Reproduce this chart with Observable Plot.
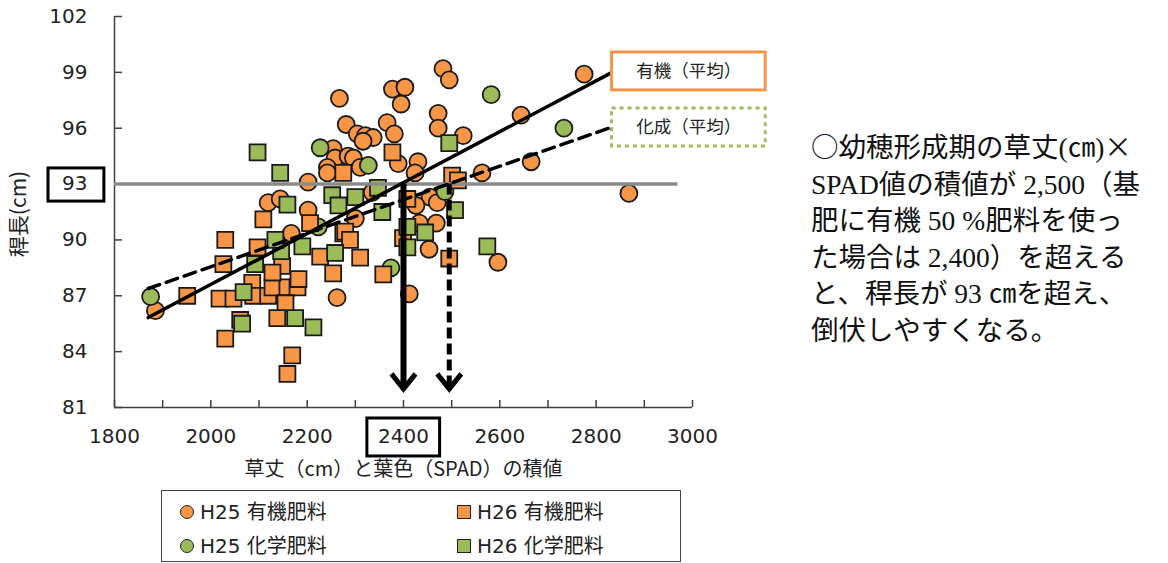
<!DOCTYPE html>
<html><head><meta charset="utf-8">
<script src="https://cdn.jsdelivr.net/npm/d3@7"></script>
<script src="https://cdn.jsdelivr.net/npm/@observablehq/plot@0.6"></script>
<style>
body{margin:0;background:#fff;}
#wrap{position:relative;width:1168px;height:563px;overflow:hidden;font-family:"Noto Sans CJK JP",sans-serif;background:#fff;}
#chart{position:absolute;left:0;top:0;}
#note{position:absolute;left:811px;top:127px;font-family:"Liberation Serif","Noto Sans CJK JP",serif;font-size:27.5px;line-height:36.5px;white-space:nowrap;color:#111;}
#note .cj{font-family:"Noto Sans CJK JP",sans-serif;}
#legend{position:absolute;left:161px;top:490px;width:520px;height:72px;border:1.5px solid #444;box-sizing:border-box;}
.li{position:absolute;font-size:20px;line-height:22px;color:#222;white-space:nowrap;font-family:"DejaVu Sans","Noto Sans CJK JP",sans-serif;}
.ic{position:absolute;box-sizing:border-box;border:1.5px solid #222;}
</style>
</head><body>
<div id="wrap">
  <div id="chart"></div>
  <div id="legend"></div>
  <div id="note"></div>
</div>
<script>
const orange = "#F79646", green = "#9BBB59";

// series names
const seriesNames = ["H25 有機肥料", "H25 化学肥料", "H26 有機肥料", "H26 化学肥料"];

// H25 organic (orange circles): [product, culm length]
const h25Organic = [[2482,99.2],[2495,98.6],[2775,98.9],[2377,98.1],[2403,98.2],[2395,97.3],[2267,97.6],[2472,96.8],[2472,96.0],[2524,95.6],[2644,96.7],[2281,96.2],[2366,96.3],[2381,95.7],[2304,95.7],[2321,95.6],[2337,95.5],[2316,95.3],[2254,94.9],[2258,94.4],[2285,94.5],[2242,93.9],[2242,93.6],[2296,94.4],[2310,93.9],[2430,94.2],[2424,93.6],[2389,94.1],[2665,94.2],[2563,93.6],[2202,93.1],[2119,92.0],[2144,92.2],[2202,91.6],[2455,92.3],[2470,92.0],[2426,91.85],[2335,92.55],[2433,90.9],[2468,90.9],[2300,91.15],[2453,89.5],[2596,88.8],[2412,87.1],[2262,86.9],[2868,92.5],[2167,90.35],[1885,86.2]];
// H25 chemical (green circles)
const h25Chem = [[2227,94.95],[2327,94.0],[2582,97.8],[2733,96.0],[1875,86.95],[2374,88.5],[2486,92.6],[2223,90.7]];
// H26 organic (orange squares)
const h26Organic = [[2109,91.1],[2030,90.0],[2026,88.7],[1951,87.0],[2148,88.6],[2097,89.6],[2275,90.35],[2254,88.2],[2227,89.1],[2018,86.85],[2047,86.85],[2086,87.7],[2088,87.0],[2119,87.0],[2128,87.45],[2159,87.45],[2180,87.45],[2182,87.9],[2155,86.6],[2061,85.7],[2138,85.8],[2030,84.7],[2169,83.8],[2159,82.8],[2408,92.2],[2399,90.1],[2495,89.0],[2279,90.45],[2289,90.0],[2310,89.05],[2358,88.15],[2275,93.6],[2377,94.7],[2501,93.45],[2513,93.2],[2206,90.9],[2128,88.25]];
// H26 chemical (green squares)
const h26Chem = [[2097,94.7],[2144,93.6],[2159,91.9],[2252,92.4],[2265,91.85],[2300,92.3],[2347,92.8],[2356,91.5],[2507,91.6],[2408,90.7],[2445,90.4],[2408,89.6],[2574,89.65],[2258,89.3],[2146,89.4],[2134,90.0],[2190,89.65],[2068,87.2],[2065,85.5],[2175,85.8],[2213,85.3],[2092,88.7],[2495,95.2]];

// average regression lines (endpoints)
const lineOrganic = [[1870,85.83],[2833,99.0]];
const lineChem = [[1870,87.39],[2832,96.05]];
const lineLabels = ["有機（平均）", "化成（平均）"];

// threshold
const threshold = 93;
const thresholdLineEnd = 2970;
const critOrganic = 2400, critChem = 2495;
const arrowTip = 82.0;

// ticks
const xLabelTicks = [1800,2000,2200,2400,2600,2800,3000];
const xMinorTicks = [1800,1900,2000,2100,2200,2300,2400,2500,2600,2700,2800,2900,3000];
const yTicks = [81,84,87,90,93,96,99,102];
const xTitle = "草丈（cm）と葉色（SPAD）の積値";
const yTitle = "稈長(cm)";

const noteLines = ["<span class='cj'>○</span>幼穂形成期の草丈(㎝)<span class='cj'>×</span>", "SPAD値の積値が 2,500（基", "肥に有機 50 %肥料を使っ", "た場合は 2,400）を超える", "と、稈長が 93 ㎝を超え、", "倒伏しやすくなる。"];

const W = 800, H = 490, mL = 114, mR = 108, mT = 16, mB = 83;
const xDomain = [1800, 3000], yDomain = [81, 102];
const pxX = (W - mL - mR) / (xDomain[1] - xDomain[0]);
const pxY = (H - mT - mB) / (yDomain[1] - yDomain[0]);
const tickLenX = 8 / pxX, tickLenY = 7 / pxY;

const chevron = {draw(ctx, size){ const r = Math.sqrt(size / Math.PI); ctx.moveTo(-0.8*r, -r); ctx.lineTo(0, 0); ctx.lineTo(0.8*r, -r); }};

const P = a => a.map(([x, y]) => ({x, y}));
const axisColor = "#404040";

const chart = Plot.plot({
  width: W, height: H, marginLeft: mL, marginRight: mR, marginTop: mT, marginBottom: mB,
  style: {fontFamily: "DejaVu Sans, sans-serif", fontSize: "20px", color: "#222", background: "white"},
  x: {domain: xDomain},
  y: {domain: yDomain},
  marks: [
    Plot.axisX({ticks: xLabelTicks, tickSize: 0, tickPadding: 21, label: null, tickFormat: d => String(d), fontSize: 20}),
    Plot.axisY({ticks: yTicks, tickSize: 0, tickPadding: 27, label: null, tickFormat: d => String(d), fontSize: 20}),
    Plot.ruleX([xDomain[0]], {y1: yDomain[0], y2: yDomain[1], stroke: axisColor, strokeWidth: 1.5}),
    Plot.ruleY([yDomain[0]], {x1: xDomain[0], x2: xDomain[1], stroke: axisColor, strokeWidth: 1.5}),
    Plot.ruleY(yTicks, {y: d => d, x1: xDomain[0], x2: xDomain[0] + tickLenX, stroke: axisColor, strokeWidth: 1.5}),
    Plot.ruleX(xMinorTicks, {x: d => d, y1: yDomain[0], y2: yDomain[0] + tickLenY, stroke: axisColor, strokeWidth: 1.5}),
    // points
    Plot.dot(P(h25Organic), {x: "x", y: "y", r: 8.5, fill: orange, stroke: "#1a1a1a", strokeWidth: 1.8}),
    Plot.dot(P(h25Chem), {x: "x", y: "y", r: 8.5, fill: green, stroke: "#1a1a1a", strokeWidth: 1.8}),
    Plot.dot(P(h26Organic), {x: "x", y: "y", r: 9, symbol: "square", fill: orange, stroke: "#1a1a1a", strokeWidth: 1.8}),
    Plot.dot(P(h26Chem), {x: "x", y: "y", r: 9, symbol: "square", fill: green, stroke: "#1a1a1a", strokeWidth: 1.8}),
    // threshold line
    Plot.ruleY([threshold], {x1: xDomain[0], x2: thresholdLineEnd, stroke: "#8a8a8a", strokeWidth: 3.5}),
    // average lines
    Plot.line(P(lineOrganic), {x: "x", y: "y", stroke: "black", strokeWidth: 3.5}),
    Plot.line(P(lineChem), {x: "x", y: "y", stroke: "black", strokeWidth: 3.5, strokeDasharray: "12,7"}),
    // arrows
    Plot.ruleX([critOrganic], {y1: threshold, y2: arrowTip + 0.15, stroke: "black", strokeWidth: 6}),
    Plot.ruleX([critChem], {y1: threshold, y2: arrowTip + 0.15, stroke: "black", strokeWidth: 5, strokeDasharray: "11,5"}),
    Plot.dot([critOrganic, critChem], {x: d => d, y: arrowTip, symbol: chevron, r: 15, fill: "none", stroke: "black", strokeWidth: 5, strokeLinejoin: "miter"}),
    // label boxes
    Plot.rect([lineLabels[0]], {x1: 2833, x2: 3152, y1: 100.07, y2: 98.03, fill: "white", stroke: orange, strokeWidth: 3}),
    Plot.rect([lineLabels[1]], {x1: 2833, x2: 3152, y1: 97.06, y2: 95.02, fill: "white", stroke: green, strokeWidth: 3, strokeDasharray: "4,4"}),
    Plot.text([lineLabels[0]], {x: 2992, y: 99.05, text: d => d, fontSize: 17.5, fontFamily: "Noto Sans CJK JP", fill: "#222"}),
    Plot.text([lineLabels[1]], {x: 2992, y: 96.04, text: d => d, fontSize: 17.5, fontFamily: "Noto Sans CJK JP", fill: "#222"}),
    // highlight boxes around tick labels 93 and 2400
    Plot.rect([threshold], {x1: 1663, x2: 1779, y1: 93.84, y2: 92.06, fill: "none", stroke: "black", strokeWidth: 3}),
    Plot.rect([critOrganic], {x1: 2325, x2: 2476, y1: 80.41, y2: 78.37, fill: "none", stroke: "black", strokeWidth: 3}),
    // titles
    Plot.text([xTitle], {frameAnchor: "bottom", lineAnchor: "middle", textAnchor: "middle", dy: 62, text: d => d, fontSize: 20, fontFamily: "Noto Sans CJK JP", fill: "#222"}),
    Plot.text([yTitle], {frameAnchor: "left", textAnchor: "middle", lineAnchor: "middle", dx: -95, dy: 2, rotate: -90, text: d => d, fontSize: 21, fontFamily: "Noto Sans CJK JP", fill: "#222"})
  ]
});
document.getElementById("chart").appendChild(chart);

// legend
const legend = document.getElementById("legend");
const legendItems = [
  {name: seriesNames[0], color: orange, shape: "circle", col: 0, row: 0},
  {name: seriesNames[2], color: orange, shape: "square", col: 1, row: 0},
  {name: seriesNames[1], color: green, shape: "circle", col: 0, row: 1},
  {name: seriesNames[3], color: green, shape: "square", col: 1, row: 1}
];
for (const it of legendItems) {
  const left = it.col === 0 ? 18 : 295;
  const top = it.row === 0 ? 10 : 44;
  const ic = document.createElement("div");
  ic.className = "ic";
  ic.style.left = left + "px"; ic.style.top = (top + 4) + "px";
  ic.style.width = "14px"; ic.style.height = "14px";
  ic.style.background = it.color;
  if (it.shape === "circle") ic.style.borderRadius = "50%";
  legend.appendChild(ic);
  const t = document.createElement("div");
  t.className = "li";
  t.style.left = (left + 20) + "px"; t.style.top = top + "px";
  t.textContent = it.name;
  legend.appendChild(t);
}
document.getElementById("note").innerHTML = noteLines.join("<br>");
</script>
</body></html>
